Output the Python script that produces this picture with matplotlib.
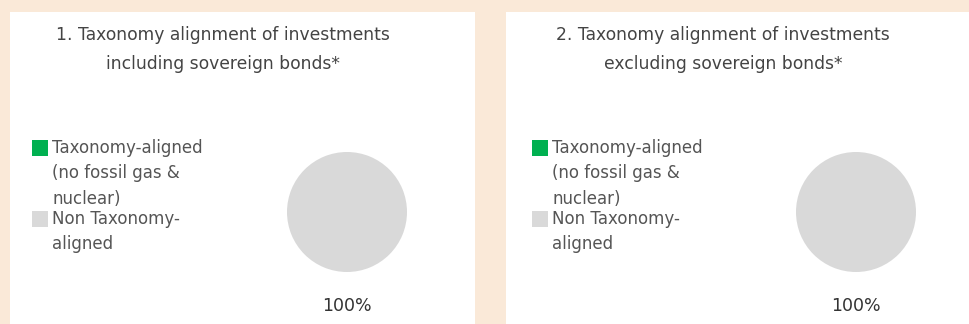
import matplotlib.pyplot as plt
from matplotlib.patches import Rectangle

# chart data
titles = ["1. Taxonomy alignment of investments\nincluding sovereign bonds*",
          "2. Taxonomy alignment of investments\nexcluding sovereign bonds*"]
categories = ["Taxonomy-aligned\n(no fossil gas &\nnuclear)", "Non Taxonomy-\naligned"]
values_incl = [0, 100]
values_excl = [0, 100]
colors = ["#00B050", "#D9D9D9"]

W, H = 969, 324
fig = plt.figure(figsize=(W / 100, H / 100), dpi=100)
fig.patch.set_facecolor("#FAE9D8")

def fx(px):
    return px / W

def fy(py):
    return 1 - py / H

text_col = "#555555"

panels = [
    # panel left, panel right, title center x, legend x, pie center x
    (10, 475, 223, 32, 347, values_incl, titles[0]),
    (506, 969, 723, 532, 856, values_excl, titles[1]),
]

for left, right, tx, lx, cx, vals, title in panels:
    fig.patches.append(Rectangle((fx(left), 0), fx(right - left), fy(12),
                                 transform=fig.transFigure, facecolor="white",
                                 edgecolor="none", zorder=-5))
    fig.text(fx(tx), fy(49.5), title, ha="center", va="center", fontsize=12.3,
             color="#444444", linespacing=1.72)

    # legend, drawn by hand to match the wrapped labels
    ys = [140, 211]
    for (cat, col, y0) in zip(categories, colors, ys):
        fig.patches.append(Rectangle((fx(lx), fy(y0 + 16)), fx(16), 16 / H,
                                     transform=fig.transFigure, facecolor=col,
                                     edgecolor="none"))
        fig.text(fx(lx + 20), fy(y0 - 1), cat, ha="left", va="top",
                 fontsize=12, color=text_col, linespacing=1.52)

    size = 150
    ax = fig.add_axes([fx(cx - size / 2), fy(212 + size / 2), size / W, size / H])
    ax.pie(vals, colors=colors, startangle=90, counterclock=False,
           autopct=lambda p: f"{p:.0f}%" if p > 0 else "",
           pctdistance=1.57, textprops={"fontsize": 12.5, "color": "#333333"},
           wedgeprops={"linewidth": 0})
    ax.set_xlim(-1.25, 1.25)
    ax.set_ylim(-1.25, 1.25)
    ax.set_aspect("equal")

fig.savefig("out.png", dpi=100, facecolor=fig.get_facecolor())
